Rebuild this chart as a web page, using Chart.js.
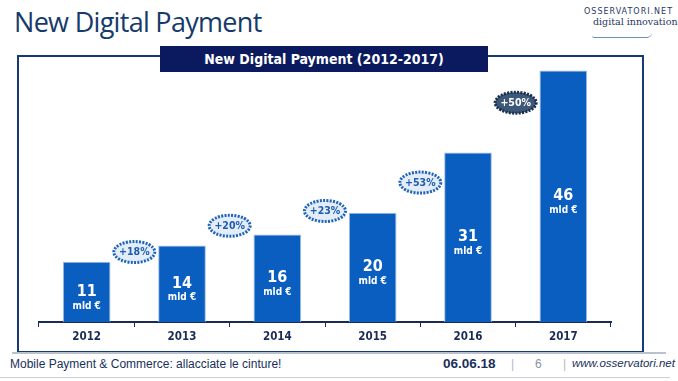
<!DOCTYPE html>
<html>
<head>
<meta charset="utf-8">
<script src="https://cdn.jsdelivr.net/npm/chart.js@4.4.1/dist/chart.umd.min.js"></script>
<style>
    html, body { margin: 0; padding: 0; background: #fff; }
    body { width: 678px; height: 381px; position: relative; overflow: hidden; font-family: 'Open Sans', sans-serif; }
    #title { position: absolute; left: 14px; top: 3px; font-size: 27px; color: #163a6b; letter-spacing: -0.7px; }
    #logo { position: absolute; left: 584px; top: 8px; color: #1f3864; line-height: 1; }
    #logo .l1 { font-family: 'DejaVu Sans', sans-serif; font-size: 8px; letter-spacing: 1px; }
    #logo .l2 { font-family: 'DejaVu Serif', serif; font-size: 9.5px; margin-left: 9px; margin-top: 1px; }
    #logo .curve { position: absolute; left: 8px; top: 25px; width: 60px; height: 4px; border-bottom: 1px solid #6f8fb8; border-radius: 0 0 60px 30px; }
    #frame { position: absolute; left: 17px; top: 55px; width: 623px; height: 294px; border: 2px solid #163a78; }
    #band { position: absolute; left: 160px; top: 46px; width: 328px; height: 26px; background: #0b1a5e; color: #fff;
            font-family: 'DejaVu Sans Condensed', sans-serif; font-weight: bold; font-size: 14px; text-align: center; line-height: 26px; }
    #hr1 { position: absolute; left: 12px; top: 352px; width: 654px; height: 2px; background: #b9c2cc; }
    #hr2 { position: absolute; left: 0; top: 377px; width: 670px; height: 1px; background: #c9d0d8; }
    .foot { position: absolute; top: 357px; font-family: 'Liberation Sans', sans-serif; font-size: 12px; color: #1a2f5a; }
    canvas { position: absolute; left: 0; top: 0; }
</style>
</head>
<body>
<div id="title">New Digital Payment</div>
<div id="logo"><div class="l1">OSSERVATORI.NET</div><div class="l2">digital innovation</div><div class="curve"></div></div>
<div id="frame"></div>
<div id="band">New Digital Payment (2012-2017)</div>
<div id="hr1"></div>
<div id="hr2"></div>
<div class="foot" style="left:10px">Mobile Payment &amp; Commerce: allacciate le cinture!</div>
<div class="foot" style="left:443px;font-weight:bold;font-size:13.5px;top:356px">06.06.18</div>
<div class="foot" style="left:511px;color:#b0b8c2">|</div>
<div class="foot" style="left:535px;color:#8a939e">6</div>
<div class="foot" style="left:563px;color:#b0b8c2">|</div>
<div class="foot" style="left:572px;font-style:italic;font-size:11.5px">www.osservatori.net</div>
<canvas id="chart" width="678" height="381"></canvas>
<script>
// dati
const years = ['2012', '2013', '2014', '2015', '2016', '2017'];
const values = [11, 14, 16, 20, 31, 46];
const unitLabel = 'mld €';
const growth = ['+18%', '+20%', '+23%', '+53%', '+50%'];
// altezza dei badge di crescita, in unità dell'asse y
const growthLevel = [12.8, 17.6, 20.3, 25.5, 40.1];

const NAVY = '#1a2b55';
const BAR = '#0a5ec0';

const barLabels = {
    id: 'barLabels',
    afterDatasetsDraw(chart) {
        const { ctx } = chart;
        const meta = chart.getDatasetMeta(0);
        ctx.save();
        ctx.fillStyle = '#fff';
        ctx.textAlign = 'center';
        ctx.textBaseline = 'middle';
        meta.data.forEach((bar, i) => {
            const mid = (bar.y + bar.base) / 2;
            ctx.font = 'bold 16px "DejaVu Sans Condensed"';
            ctx.fillText(values[i], bar.x, mid);
            ctx.font = 'bold 10px "DejaVu Sans Condensed"';
            ctx.fillText(unitLabel, bar.x, mid + 14);
        });
        ctx.restore();
    },
};

const growthBadges = {
    id: 'growthBadges',
    afterDatasetsDraw(chart) {
        const { ctx } = chart;
        const meta = chart.getDatasetMeta(0);
        const y = chart.scales.y;
        ctx.save();
        growth.forEach((g, i) => {
            const cx = (meta.data[i].x + meta.data[i + 1].x) / 2;
            const cy = y.getPixelForValue(growthLevel[i]);
            const last = i === growth.length - 1;
            ctx.beginPath();
            ctx.ellipse(cx, cy, 20.5, 10.5, 0, 0, Math.PI * 2);
            ctx.fillStyle = last ? '#3d5878' : '#e3edf9';
            ctx.fill();
            ctx.lineWidth = 3;
            ctx.setLineDash([2, 1.3]);
            ctx.strokeStyle = last ? '#1b2f4d' : '#1f64b8';
            ctx.stroke();
            ctx.setLineDash([]);
            ctx.fillStyle = last ? '#fff' : '#1f5cae';
            ctx.font = 'bold 10.5px "DejaVu Sans Condensed"';
            ctx.textAlign = 'center';
            ctx.textBaseline = 'middle';
            ctx.fillText(g, cx, cy + 0.5);
        });
        ctx.restore();
    },
};

new Chart(document.getElementById('chart'), {
    type: 'bar',
    data: {
        labels: years,
        datasets: [{
            data: values,
            backgroundColor: BAR,
            borderColor: '#9fbde6',
            borderWidth: 1,
            categoryPercentage: 1,
            barPercentage: 0.5,
        }],
    },
    options: {
        responsive: false,
        animation: false,
        events: [],
        layout: { padding: { left: 39, right: 67, top: 65, bottom: 29 } },
        plugins: { legend: { display: false }, tooltip: { enabled: false } },
        scales: {
            x: {
                afterFit: s => { s.height = 30; },
                border: { display: true, color: NAVY, width: 2 },
                grid: { drawOnChartArea: false, drawTicks: true, tickLength: 5, color: NAVY, lineWidth: 1 },
                ticks: { color: NAVY, padding: 3, font: { family: 'DejaVu Sans Condensed', weight: 'bold', size: 11.5 } },
            },
            y: { display: false, min: 0, max: 47 },
        },
    },
    plugins: [barLabels, growthBadges],
});
</script>
</body>
</html>
